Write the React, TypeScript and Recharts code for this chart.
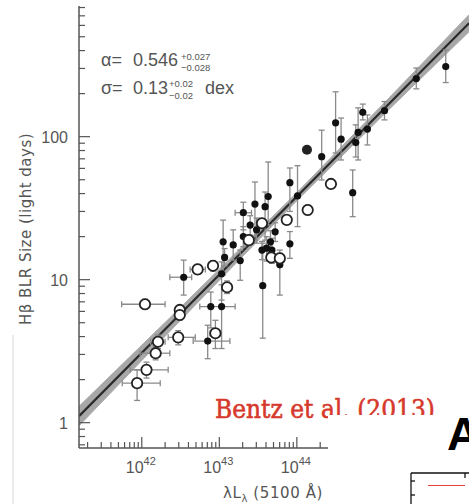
import { ComposedChart, XAxis, YAxis, Scatter, ErrorBar, Line, Area } from "recharts";

const W = 469;
const H = 504;

const xDomain = [1.55e41, 1.66e46];
const yDomain = [0.665, 820];
const xDecades = [1e41, 1e42, 1e43, 1e44, 1e45, 1e46];
const yDecades = [0.1, 1, 10, 100];
const minorSteps = [1, 2, 3, 4, 5, 6, 7, 8, 9];

// best fit (alpha = 0.546) and its confidence band, read at a few luminosities
const fitL = [1.55e41, 3.16e42, 1e44, 1.58e45, 1.66e46];
const fitR = [1.11, 5.78, 38.1, 172, 621];
const fitLo = [0.95, 5.2, 35.7, 157, 541];
const fitHi = [1.3, 6.4, 40.6, 189, 713];

// filled points: luminosity, lag, lag range, luminosity range (null = none shown)
const dotL = [3.47e42, 7.76e42, 1.07e43, 7.08e42, 1.07e43, 1.12e43, 1.17e43, 1.51e43, 1.86e43, 2.04e43, 2.88e43, 3.02e43, 2.04e43, 4.27e43, 3.89e43, 4.07e43, 4.77e43, 4.57e43, 3.63e43, 6.03e43, 8.13e43, 8.13e43, 1.02e44, 2.09e44, 3.16e44, 3.72e44, 5.75e44, 6.17e44, 7.08e44, 8.13e44, 1.35e45, 3.47e45, 8.32e45, 5.25e44, 2.5e43, 5.25e43, 3.55e43];
const dotR = [10.4, 6.48, 6.48, 3.72, 11.0, 18.4, 14.3, 17.5, 13.6, 29.4, 33.8, 22.3, 20.0, 38.1, 32.4, 16.6, 16.1, 18.4, 9.08, 12.7, 17.8, 47.7, 38.5, 72.5, 125, 96, 91, 107, 148, 113, 152, 255, 309, 40.6, 24.1, 21.6, 16.1];
const dotRlo = [7.8, 4.6, 3.3, 2.8, 7.2, 10.8, 12.5, 13.7, 9.9, 22.3, 18.9, 18.0, 17.0, 24.1, 18.9, 13.5, 13.0, 15.5, 3.9, 7.8, 14.1, 30.0, 23.5, 49.8, 76.9, 68.7, 72.1, 68.7, 131, 87.5, 131, 216, 239, 27.6, 20.5, 18.5, 13.8];
const dotRhi = [13.7, 8.2, 9.2, 4.8, 13.3, 26.1, 16.5, 22.3, 16.1, 34.8, 48.2, 27.0, 23.5, 66.5, 41.0, 20.0, 19.5, 22.0, 18.0, 16.1, 21.7, 60.4, 62.7, 111, 206, 135, 121, 159, 169, 142, 176, 302, 404, 58.5, 28.0, 25.0, 18.5];
const dotLlo = [2.3e42, 5.6e42, null, 4.6e42, null, null, null, null, null, 1.6e43, null, null, null, null, null, null, null, null, null, null, null, null, null, null, null, null, null, null, null, null, null, null, null, null, null, null, null];
const dotLhi = [4.4e42, 1.6e43, null, 1.37e43, null, null, null, null, null, 2.6e43, null, null, null, null, null, null, null, null, null, null, null, null, null, null, null, null, null, null, null, null, null, null, null, null, null, null, null];

// the single large filled point without error bars
const bigL = [1.35e44];
const bigR = [81];

// open circles
const openL = [8.7e41, 1.15e42, 1.51e42, 1.62e42, 1.1e42, 2.95e42, 3.09e42, 3.09e42, 5.25e42, 8.3e42, 8.9e42, 1.26e43, 2.4e43, 3.55e43, 4.68e43, 6.03e43, 7.41e43, 1.38e44, 2.75e44];
const openR = [1.89, 2.34, 3.06, 3.68, 6.73, 3.95, 6.14, 5.66, 11.8, 12.5, 4.22, 8.85, 18.9, 24.8, 14.3, 14.1, 26.2, 30.7, 46.7];
const openRlo = [1.43, 2.05, 2.75, 3.3, 6.2, 3.5, 5.7, 5.2, 10.9, 11.5, 3.3, 8.0, 17.5, 23, 13.2, 13, 24.5, 28.4, 45];
const openRhi = [2.34, 2.65, 3.4, 4.1, 7.3, 4.4, 6.6, 6.1, 12.8, 13.6, 5.2, 9.8, 20.5, 26.8, 15.5, 15.3, 28, 33.2, 48.5];
const openLlo = [5.6e41, 7.1e41, 9.5e41, 1.3e42, 5.5e41, 2.19e42, null, null, 4.2e42, null, 7.6e42, null, null, null, null, null, null, null, null];
const openLhi = [1.73e42, 2.19e42, 2.3e42, 2.0e42, 2.0e42, 4.9e42, null, null, 6.6e42, null, 1.05e43, null, null, null, null, null, null, null, null];

const fitData = fitL.map((L, i) => ({ L, fit: fitR[i], band: [fitLo[i], fitHi[i]] }));

const toRows = (L: number[], R: number[], Rlo: number[], Rhi: number[], Llo?: (number | null)[], Lhi?: (number | null)[]) =>
  L.map((l, i) => ({
    L: l,
    R: R[i],
    ey: [R[i] - Rlo[i], Rhi[i] - R[i]],
    ex: Llo && Llo[i] != null ? [l - (Llo[i] as number), (Lhi![i] as number) - l] : [0, 0],
  }));

const dots = toRows(dotL, dotR, dotRlo, dotRhi, dotLlo, dotLhi);
const opens = toRows(openL, openR, openRlo, openRhi, openLlo, openLhi);
const bigDots = bigL.map((L, i) => ({ L, R: bigR[i] }));

const inRange = (v: number, d: number[]) => v >= d[0] * 0.9999 && v <= d[1] * 1.0001;
const xTicks = xDecades.flatMap((d) => minorSteps.map((s) => d * s)).filter((v) => inRange(v, xDomain));
const yTicks = yDecades.flatMap((d) => minorSteps.map((s) => d * s)).filter((v) => inRange(v, yDomain));

const isMajor = (v: number) => Math.abs(Math.log10(v) - Math.round(Math.log10(v))) < 1e-6;

const AX = "#555";
const FONT = "'Liberation Sans', Arial, sans-serif";
const WIDE = "'DejaVu Sans', sans-serif";

const BottomTick = (p: any) => {
  const v = p.payload.value;
  const major = isMajor(v);
  return (
    <g>
      <line x1={p.x} x2={p.x} y1={p.y} y2={p.y - (major ? 11 : 6)} stroke={AX} strokeWidth={1.2} />
      {major && (
        <text x={p.x - 1} y={p.y + 25} textAnchor="middle" fill={AX} fontFamily={FONT} fontSize={16}>
          10<tspan dy={-8} fontSize={11}>{Math.round(Math.log10(v))}</tspan>
        </text>
      )}
    </g>
  );
};

const TopTick = (p: any) => {
  const major = isMajor(p.payload.value);
  return <line x1={p.x} x2={p.x} y1={p.y} y2={p.y + (major ? 11 : 6)} stroke={AX} strokeWidth={1.2} />;
};

const LeftTick = (p: any) => {
  const v = p.payload.value;
  const major = isMajor(v);
  return (
    <g>
      <line x1={p.x} x2={p.x + (major ? 11 : 6)} y1={p.y} y2={p.y} stroke={AX} strokeWidth={1.2} />
      {major && (
        <text x={p.x - 11} y={p.y + 6} textAnchor="end" fill={AX} fontFamily={FONT} fontSize={16}>
          {String(Math.round(v))}
        </text>
      )}
    </g>
  );
};

const filledDot = (p: any) => <circle cx={p.cx} cy={p.cy} r={3.6} fill="#111" />;
const bigDot = (p: any) => <circle cx={p.cx} cy={p.cy} r={5} fill="#222" />;
const openDot = (p: any) => <circle cx={p.cx} cy={p.cy} r={5.2} fill="#fff" stroke="#222" strokeWidth={1.8} />;

export default function App() {
  return (
    <div style={{ position: "absolute", left: 0, top: 0, width: W, height: H, overflow: "hidden", background: "#fff" }}>
      <ComposedChart width={W} height={H} data={fitData} margin={{ top: 6, right: 0, bottom: 0, left: 0 }}>
        <XAxis
          xAxisId="b"
          dataKey="L"
          type="number"
          scale="log"
          domain={xDomain}
          allowDataOverflow
          ticks={xTicks}
          interval={0}
          tick={<BottomTick />}
          tickLine={false}
          tickSize={0}
          tickMargin={0}
          height={56}
          axisLine={{ stroke: AX, strokeWidth: 1.5 }}
        />
        <XAxis
          xAxisId="t"
          orientation="top"
          dataKey="L"
          type="number"
          scale="log"
          domain={xDomain}
          allowDataOverflow
          ticks={xTicks}
          interval={0}
          tick={<TopTick />}
          tickLine={false}
          tickSize={0}
          tickMargin={0}
          height={0}
          axisLine={{ stroke: AX, strokeWidth: 1.5 }}
        />
        <YAxis
          yAxisId="l"
          dataKey="R"
          type="number"
          scale="log"
          domain={yDomain}
          allowDataOverflow
          ticks={yTicks}
          interval={0}
          tick={<LeftTick />}
          tickLine={false}
          tickSize={0}
          tickMargin={0}
          width={79}
          axisLine={{ stroke: AX, strokeWidth: 1.5 }}
        />
        <Area xAxisId="b" yAxisId="l" dataKey="band" fill="#8a8a8a" fillOpacity={0.75} stroke="#aaa" strokeWidth={1} isAnimationActive={false} />
        <Line xAxisId="b" yAxisId="l" dataKey="fit" stroke="#2a2a2a" strokeWidth={2.2} dot={false} isAnimationActive={false} />
        <Line xAxisId="t" yAxisId="l" dataKey="fit" stroke="none" dot={false} isAnimationActive={false} />
        <Scatter xAxisId="b" yAxisId="l" data={dots} shape={filledDot} isAnimationActive={false}>
          <ErrorBar dataKey="ey" direction="y" width={3} stroke="#8a8a8a" strokeWidth={1.3} />
          <ErrorBar dataKey="ex" direction="x" width={3} stroke="#8a8a8a" strokeWidth={1.3} />
        </Scatter>
        <Scatter xAxisId="b" yAxisId="l" data={bigDots} shape={bigDot} isAnimationActive={false} />
        <Scatter xAxisId="b" yAxisId="l" data={opens} shape={openDot} isAnimationActive={false}>
          <ErrorBar dataKey="ey" direction="y" width={3} stroke="#8a8a8a" strokeWidth={1.3} />
          <ErrorBar dataKey="ex" direction="x" width={3} stroke="#8a8a8a" strokeWidth={1.3} />
        </Scatter>
      </ComposedChart>
      <svg width={W} height={H} style={{ position: "absolute", left: 0, top: 0, pointerEvents: "none" }}>
        <g fill="#555" fontFamily={FONT}>
          <text x={101} y={66} fontSize={18}>α=</text>
          <text x={133} y={66} fontSize={18}>0.546</text>
          <text x={181} y={60} fontSize={9.5}>+0.027</text>
          <text x={181} y={71} fontSize={9.5}>−0.028</text>
          <text x={101} y={94} fontSize={18}>σ=</text>
          <text x={133} y={94} fontSize={18}>0.13</text>
          <text x={169} y={87} fontSize={9.5}>+0.02</text>
          <text x={169} y={99} fontSize={9.5}>−0.02</text>
          <text x={205} y={94} fontSize={18}>dex</text>
        </g>
        <g fill="#555" fontFamily={WIDE}>
          <text x={31} y={229} fontSize={15} letterSpacing={0.5} textAnchor="middle" transform="rotate(-90 31 229)">
            Hβ BLR Size (light days)
          </text>
          <text x={223} y={498} fontSize={15} letterSpacing={0.6}>
            λL<tspan dy={4} fontSize={10}>λ</tspan>
            <tspan dy={-4}> (5100 Å)</tspan>
          </text>
        </g>
        <line x1={13} x2={13} y1={335} y2={504} stroke="#ececec" strokeWidth={2} />
        <text
          x={215}
          y={418}
          fill="#d6392c"
          stroke="#d6392c"
          strokeWidth={0.6}
          fontFamily="'DejaVu Serif', serif"
          fontSize={26}
          textLength={220}
          lengthAdjust="spacingAndGlyphs"
        >
          Bentz et al. (2013)
        </text>
        <rect x={328} y={415} width={W - 328} height={H - 415} fill="#fff" />
        <text x={447} y={450} fill="#000" fontFamily={FONT} fontWeight="bold" fontSize={46}>
          A
        </text>
        <g stroke="#111" strokeWidth={1.3}>
          <line x1={411} x2={W} y1={473} y2={473} />
          <line x1={411} x2={411} y1={473} y2={H} />
          <line x1={465} x2={465} y1={473} y2={478} />
          <line x1={411} x2={415} y1={481} y2={481} />
          <line x1={411} x2={415} y1={495} y2={495} />
        </g>
        <line x1={428} x2={465} y1={485.5} y2={485.5} stroke="#e8403a" strokeWidth={1.2} />
      </svg>
    </div>
  );
}
